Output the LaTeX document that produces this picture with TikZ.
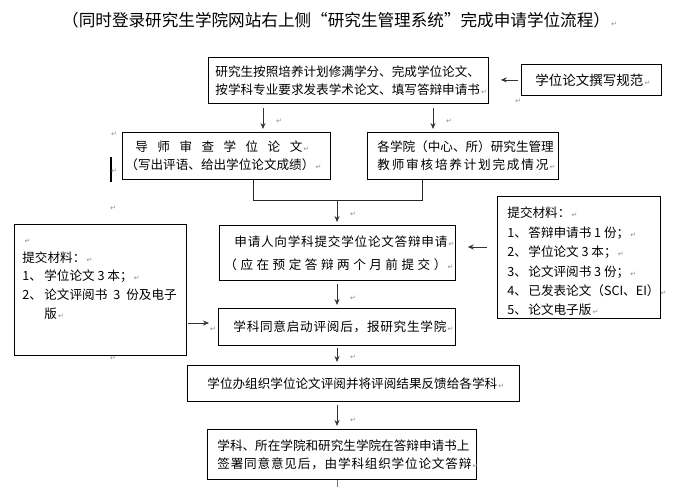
\documentclass[tikz,border=0pt]{standalone}
\usepackage{fontspec}
\setmainfont{Noto Sans CJK SC}
\newfontfamily\dejavu{DejaVu Sans}
\usetikzlibrary{arrows.meta}
\newcommand\rt{{\dejavu\fontsize{7}{7}\selectfont\color{black!45}\,↵}}
\newcommand\sline[2]{\makebox[#1][s]{#2}}
\newcommand\tl[2]{\hspace*{#1}\mbox{#2}}
\newcommand\cbox[4]{\parbox[c][#2][#3]{#1}{\raggedright #4}}
\tikzset{
  frame/.style={draw=black, line width=0.8pt, inner sep=0pt, anchor=north west},
  arr/.style={-{Stealth[length=6pt,width=5pt]}, line width=0.8pt, draw=black!80},
  conn/.style={line width=0.8pt, draw=black!85},
  retmark/.style={inner sep=0pt, font=\dejavu\fontsize{7}{7}\selectfont, text=black!45},
}
\begin{document}
\begin{tikzpicture}[x=1pt,y=-1pt]
\useasboundingbox (0,0) rectangle (695,487);
% title
\node[anchor=west, inner sep=0pt, font=\fontsize{16.6}{16.6}\selectfont] (title) at (62,20)
  {（同时登录研究生学院网站右上侧“研究生管理系统”完成申请学位流程）\rt};
% boxes
\node[frame] (b1) at (208,57) {\fontsize{12.6}{18}\selectfont\cbox{280pt}{46pt}{c}{%
  \tl{7pt}{研究生按照培养计划修满学分、完成学位论文、}\\
  \tl{7pt}{按学科专业要求发表学术论文、填写答辩申请书\rt}}};
\node[frame] (gf) at (521,64) {\fontsize{13.5}{18}\selectfont\cbox{140pt}{31pt}{c}{%
  \tl{14pt}{学位论文撰写规范\rt}}};
\node[frame] (ds) at (122,132) {\fontsize{12.6}{18}\selectfont\cbox{208pt}{47pt}{c}{%
  \tl{13pt}{\sline{167pt}{导\hfill 师\hfill 审\hfill 查\hfill 学\hfill 位\hfill 论\hfill 文}\rt}\\
  \tl{3pt}{（写出评语、给出学位论文成绩）\rt}}};
\node[frame] (gx) at (367,132) {\fontsize{12.6}{18}\selectfont\cbox{191pt}{47pt}{c}{%
  \tl{10pt}{各学院（中心、所）研究生管理}\\
  \tl{10pt}{\sline{171pt}{教\hfill 师\hfill 审\hfill 核\hfill 培\hfill 养\hfill 计\hfill 划\hfill 完\hfill 成\hfill 情\hfill 况}\rt}}};
\node[frame] (sq) at (219,225) {\fontsize{12.6}{23}\selectfont\cbox{236pt}{55pt}{c}{%
  \tl{15pt}{\sline{213pt}{申\hfill 请\hfill 人\hfill 向\hfill 学\hfill 科\hfill 提\hfill 交\hfill 学\hfill 位\hfill 论\hfill 文\hfill 答\hfill 辩\hfill 申\hfill 请}\rt}\\
  \tl{5pt}{\sline{222pt}{（\hfill 应\hfill 在\hfill 预\hfill 定\hfill 答\hfill 辩\hfill 两\hfill 个\hfill 月\hfill 前\hfill 提\hfill 交\hfill ）}\rt}}};
\node[frame] (xk) at (218,308) {\fontsize{12.6}{18}\selectfont\cbox{237pt}{37pt}{c}{%
  \tl{15pt}{\sline{213pt}{学\hfill 科\hfill 同\hfill 意\hfill 启\hfill 动\hfill 评\hfill 阅\hfill 后\hfill ，\hfill 报\hfill 研\hfill 究\hfill 生\hfill 学\hfill 院}\rt}}};
\node[frame] (xw) at (187,365) {\fontsize{12.6}{18}\selectfont\cbox{332pt}{36pt}{c}{%
  \tl{20pt}{学位办组织学位论文评阅并将评阅结果反馈给各学科\rt}}};
\node[frame] (qm) at (207,429) {\fontsize{12.6}{18}\selectfont\cbox{269pt}{50pt}{c}{%
  \tl{10pt}{学科、所在学院和研究生学院在答辩申请书上}\\
  \tl{10pt}{\sline{254pt}{签\hfill 署\hfill 同\hfill 意\hfill 意\hfill 见\hfill 后\hfill ，\hfill 由\hfill 学\hfill 科\hfill 组\hfill 织\hfill 学\hfill 位\hfill 论\hfill 文\hfill 答\hfill 辩}\rt}}};
\node[frame] (lb) at (14,224) {\fontsize{12.6}{18.75}\selectfont\cbox{172pt}{131pt}{t}{%
  \rule{0pt}{19pt}\tl{9pt}{\rt}\\
  \tl{8pt}{提交材料：\rt}\\
  \tl{8pt}{\makebox[22pt][l]{1、}学位论文 3 本；\rt}\\
  \tl{8pt}{\makebox[22pt][l]{2、}论文评阅书\hspace{6pt}3\hspace{6pt}份及电子}\\
  \tl{30pt}{版\rt}}};
\node[frame] (rb) at (497,196) {\fontsize{12.6}{19.4}\selectfont\cbox{163pt}{122pt}{t}{%
  \rule{0pt}{21.5pt}\tl{10pt}{提交材料：\rt}\\
  \tl{10pt}{\makebox[21pt][l]{1、}答辩申请书 1 份；\rt}\\
  \tl{10pt}{\makebox[21pt][l]{2、}学位论文 3 本；\rt}\\
  \tl{10pt}{\makebox[21pt][l]{3、}论文评阅书 3 份；\rt}\\
  \tl{10pt}{\makebox[21pt][l]{4、}已发表论文（SCI、EI）\rt}\\
  \tl{10pt}{\makebox[21pt][l]{5、}论文电子版\rt}}};
% helper coordinates
\coordinate (a1) at (263,0);
\coordinate (a2) at (433,0);
\coordinate (c1) at (253,200);
\coordinate (c2) at (422,200);
\coordinate (cm) at (337,200);
\coordinate (cend) at (337,487);
\coordinate (yr) at (0,247);
\coordinate (yl) at (0,323);
% connectors
\draw[arr, shorten <=3pt, shorten >=12pt] (gf.west) -- (gf.west -| b1.east);
\draw[arr, shorten <=4pt, shorten >=3pt] (b1.south -| a1) -- (ds.north -| a1);
\draw[arr, shorten <=4pt, shorten >=3pt] (b1.south -| a2) -- (gx.north -| a2);
\draw[conn] (ds.south -| c1) -- (c1) -- (c2) -- (gx.south -| c2);
\draw[arr, shorten >=3pt] (cm) -- (sq.north -| cm);
\draw[arr, shorten <=3pt, shorten >=3pt] (sq.south -| cm) -- (xk.north -| cm);
\draw[arr, shorten <=2pt, shorten >=3pt] (xk.south -| cm) -- (xw.north -| cm);
\draw[arr, shorten <=3pt, shorten >=3pt] (xw.south -| cm) -- (qm.north -| cm);
\draw[conn, draw=black!55] (qm.south -| cm) -- (cend);
\draw[arr, shorten <=10pt, shorten >=12pt] (rb.west |- yr) -- (sq.east |- yr);
\draw[arr, shorten <=1pt, shorten >=9pt] (lb.east |- yl) -- (xk.west |- yl);
% cursor bar
\draw[line width=2pt] (110.5,157) -- (110.5,182);
% stray paragraph marks
\node[retmark] (m1) at (518,101) {↵};
\node[retmark] (m2) at (279,121) {↵};
\node[retmark] (m3) at (449,121) {↵};
\node[retmark] (m4) at (114,134) {↵};
\node[retmark] (m5) at (114,171) {↵};
\node[retmark] (m6) at (353,214) {↵};
\node[retmark] (m7) at (113,208) {↵};
\node[retmark] (m8) at (113,358) {↵};
\node[retmark] (m9) at (353,298) {↵};
\node[retmark] (m10) at (213,329) {↵};
\node[retmark] (m11) at (353,357) {↵};
\node[retmark] (m12) at (353,420) {↵};
\end{tikzpicture}
\end{document}
